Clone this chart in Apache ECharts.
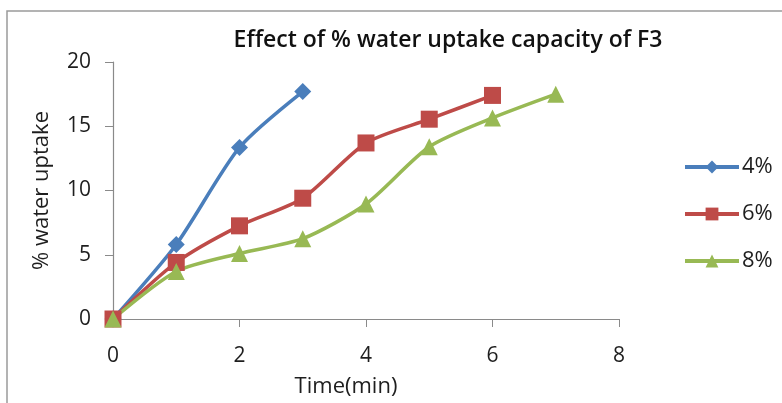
<!DOCTYPE html>
<html>
<head>
<meta charset="utf-8">
<script src="https://cdn.jsdelivr.net/npm/echarts@6/dist/echarts.min.js"></script>
<style>
  html, body { margin: 0; padding: 0; background: #fff; }
  #chart { width: 782px; height: 403px; }
</style>
</head>
<body>
<div id="chart"></div>
<script>
// Time points (min)
const times4 = [0, 1, 2, 3];
const times6 = [0, 1, 2, 3, 4, 5, 6];
const times8 = [0, 1, 2, 3, 4, 5, 6, 7];

// % water uptake for each concentration
const uptake4 = [0, 5.8, 13.35, 17.7];
const uptake6 = [0, 4.4, 7.25, 9.4, 13.7, 15.55, 17.4];
const uptake8 = [0, 3.7, 5.1, 6.25, 8.95, 13.4, 15.65, 17.5];

const seriesNames = ['4%', '6%', '8%'];
const xTicks = [0, 2, 4, 6, 8];
const yTicks = [0, 5, 10, 15, 20];

const pair = (xs, ys) => xs.map((x, i) => [x, ys[i]]);

const font = 'Open Sans, Noto Sans, sans-serif';
const axisGrey = '#8a8a8a';
const textColor = '#1e1e1e';

const chart = echarts.init(document.getElementById('chart'));
chart.setOption({
  animation: false,
  backgroundColor: '#fff',
  graphic: [{
    type: 'rect',
    shape: { x: 7, y: 11, width: 800, height: 420 },
    style: { fill: 'none', stroke: '#9a9a9a', lineWidth: 1.5 },
    silent: true
  }],
  title: {
    text: 'Effect of % water uptake capacity of F3',
    left: 443,
    textAlign: 'center',
    top: 24,
    textStyle: { fontFamily: font, fontWeight: 600, fontSize: 23, color: '#111' }
  },
  legend: {
    orient: 'vertical',
    left: 678,
    top: 151,
    itemGap: 25,
    itemWidth: 54,
    itemHeight: 16,
    data: seriesNames,
    lineStyle: { width: 4 },
    textStyle: { fontFamily: font, fontSize: 22, color: textColor, padding: [0, 0, 0, -2] }
  },
  grid: { left: 113, top: 62, right: 163, bottom: 82, containLabel: false },
  xAxis: {
    type: 'value',
    min: xTicks[0],
    max: xTicks[xTicks.length - 1],
    interval: xTicks[1] - xTicks[0],
    name: 'Time(min)',
    nameLocation: 'middle',
    nameGap: 57,
    nameTextStyle: { fontFamily: font, fontSize: 22, color: textColor, padding: [0, 40, 0, 0] },
    axisLine: { lineStyle: { color: axisGrey, width: 1.2 } },
    axisTick: { length: 8, lineStyle: { color: axisGrey } },
    axisLabel: { fontFamily: font, fontSize: 21, color: textColor, margin: 27 },
    splitLine: { show: false }
  },
  yAxis: {
    type: 'value',
    min: yTicks[0],
    max: yTicks[yTicks.length - 1],
    interval: yTicks[1] - yTicks[0],
    name: '% water uptake',
    nameLocation: 'middle',
    nameGap: 60,
    nameTextStyle: { fontFamily: font, fontSize: 22, color: textColor },
    axisLine: { show: true, lineStyle: { color: axisGrey, width: 1.2 } },
    axisTick: { show: true, length: 8, lineStyle: { color: axisGrey } },
    axisLabel: { fontFamily: font, fontSize: 21, color: textColor, margin: 22 },
    splitLine: { show: false }
  },
  series: [
    {
      name: seriesNames[0], type: 'line', smooth: 0.25,
      data: pair(times4, uptake4),
      symbol: 'diamond', symbolSize: 17,
      itemStyle: { color: '#4a7ebb' },
      lineStyle: { width: 3.5, color: '#4a7ebb' }
    },
    {
      name: seriesNames[1], type: 'line', smooth: 0.25,
      data: pair(times6, uptake6),
      symbol: 'rect', symbolSize: 17,
      itemStyle: { color: '#be4b48' },
      lineStyle: { width: 3.5, color: '#be4b48' }
    },
    {
      name: seriesNames[2], type: 'line', smooth: 0.25,
      data: pair(times8, uptake8),
      symbol: 'triangle', symbolSize: 17,
      itemStyle: { color: '#98b954' },
      lineStyle: { width: 3.5, color: '#98b954' }
    }
  ]
});
</script>
</body>
</html>
